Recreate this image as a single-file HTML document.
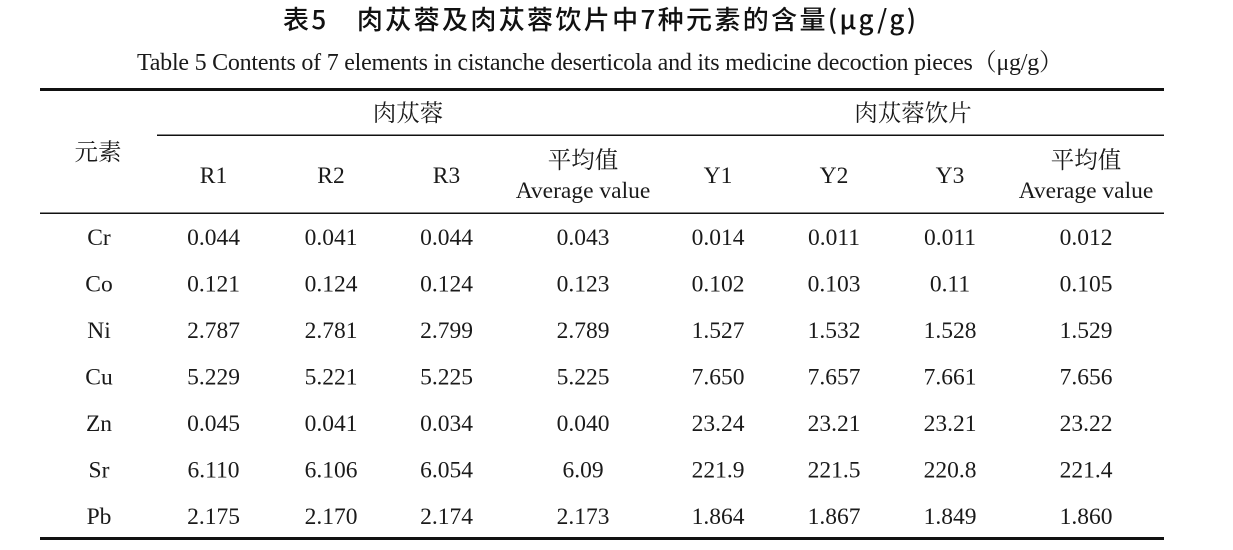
<!DOCTYPE html>
<html>
<head>
<meta charset="utf-8">
<style>
  html, body { margin:0; padding:0; background:#fff; }
  svg { display:block; }
  .t { font-family: "Noto Sans CJK SC", "WenQuanYi Zen Hei", sans-serif; font-size:26px; font-weight:500; fill:#111; }
  .s { font-family: "Liberation Serif", "Noto Serif CJK SC", serif; font-size:24px; fill:#1a1a1a; }
  .h { font-family: "Liberation Serif", "Noto Serif CJK SC", serif; font-size:23.5px; fill:#1a1a1a; }
  .c { font-family: "Noto Serif CJK SC", "Liberation Serif", serif; font-size:23.5px; fill:#1a1a1a; }
  .d { font-family: "Liberation Serif", serif; font-size:23.5px; fill:#1a1a1a; }
</style>
</head>
<body>
<svg width="1233" height="550" viewBox="0 0 1233 550" xmlns="http://www.w3.org/2000/svg">
  <rect width="1233" height="550" fill="#fff"/>
  <!-- titles -->
  <text class="t" x="283" y="29" textLength="633" lengthAdjust="spacing">表5　肉苁蓉及肉苁蓉饮片中7种元素的含量(μg/g)</text>
  <text class="s" x="137" y="70" textLength="926" lengthAdjust="spacing">Table 5 Contents of 7 elements in cistanche deserticola and its medicine decoction pieces（μg/g）</text>

  <!-- rules -->
  <rect x="40" y="88" width="1124" height="3" fill="#111"/>
  <rect x="157" y="134.5" width="1007" height="1.5" fill="#111"/>
  <rect x="40" y="212.5" width="1124" height="1.5" fill="#111"/>
  <rect x="40" y="537" width="1124" height="3" fill="#111"/>

  <!-- header -->
  <g text-anchor="middle">
    <text class="c" x="98" y="160">元素</text>
    <text class="c" x="408" y="121">肉苁蓉</text>
    <text class="c" x="913" y="121">肉苁蓉饮片</text>

    <text class="h" x="213.5" y="183">R1</text>
    <text class="h" x="331" y="183">R2</text>
    <text class="h" x="446.5" y="183">R3</text>
    <text class="c" x="583" y="168">平均值</text>
    <text class="h" x="583" y="198">Average value</text>
    <text class="h" x="718" y="183">Y1</text>
    <text class="h" x="834" y="183">Y2</text>
    <text class="h" x="950" y="183">Y3</text>
    <text class="c" x="1086" y="168">平均值</text>
    <text class="h" x="1086" y="198">Average value</text>
  </g>

  <!-- data rows -->
  <g class="d" text-anchor="middle">
    <g transform="translate(0,245)">
      <text x="99" y="0">Cr</text><text x="213.5" y="0">0.044</text><text x="331" y="0">0.041</text><text x="446.5" y="0">0.044</text><text x="583" y="0">0.043</text><text x="718" y="0">0.014</text><text x="834" y="0">0.011</text><text x="950" y="0">0.011</text><text x="1086" y="0">0.012</text>
    </g>
    <g transform="translate(0,291.5)">
      <text x="99" y="0">Co</text><text x="213.5" y="0">0.121</text><text x="331" y="0">0.124</text><text x="446.5" y="0">0.124</text><text x="583" y="0">0.123</text><text x="718" y="0">0.102</text><text x="834" y="0">0.103</text><text x="950" y="0">0.11</text><text x="1086" y="0">0.105</text>
    </g>
    <g transform="translate(0,338)">
      <text x="99" y="0">Ni</text><text x="213.5" y="0">2.787</text><text x="331" y="0">2.781</text><text x="446.5" y="0">2.799</text><text x="583" y="0">2.789</text><text x="718" y="0">1.527</text><text x="834" y="0">1.532</text><text x="950" y="0">1.528</text><text x="1086" y="0">1.529</text>
    </g>
    <g transform="translate(0,384.5)">
      <text x="99" y="0">Cu</text><text x="213.5" y="0">5.229</text><text x="331" y="0">5.221</text><text x="446.5" y="0">5.225</text><text x="583" y="0">5.225</text><text x="718" y="0">7.650</text><text x="834" y="0">7.657</text><text x="950" y="0">7.661</text><text x="1086" y="0">7.656</text>
    </g>
    <g transform="translate(0,431)">
      <text x="99" y="0">Zn</text><text x="213.5" y="0">0.045</text><text x="331" y="0">0.041</text><text x="446.5" y="0">0.034</text><text x="583" y="0">0.040</text><text x="718" y="0">23.24</text><text x="834" y="0">23.21</text><text x="950" y="0">23.21</text><text x="1086" y="0">23.22</text>
    </g>
    <g transform="translate(0,477.5)">
      <text x="99" y="0">Sr</text><text x="213.5" y="0">6.110</text><text x="331" y="0">6.106</text><text x="446.5" y="0">6.054</text><text x="583" y="0">6.09</text><text x="718" y="0">221.9</text><text x="834" y="0">221.5</text><text x="950" y="0">220.8</text><text x="1086" y="0">221.4</text>
    </g>
    <g transform="translate(0,524)">
      <text x="99" y="0">Pb</text><text x="213.5" y="0">2.175</text><text x="331" y="0">2.170</text><text x="446.5" y="0">2.174</text><text x="583" y="0">2.173</text><text x="718" y="0">1.864</text><text x="834" y="0">1.867</text><text x="950" y="0">1.849</text><text x="1086" y="0">1.860</text>
    </g>
  </g>
</svg>
</body>
</html>
